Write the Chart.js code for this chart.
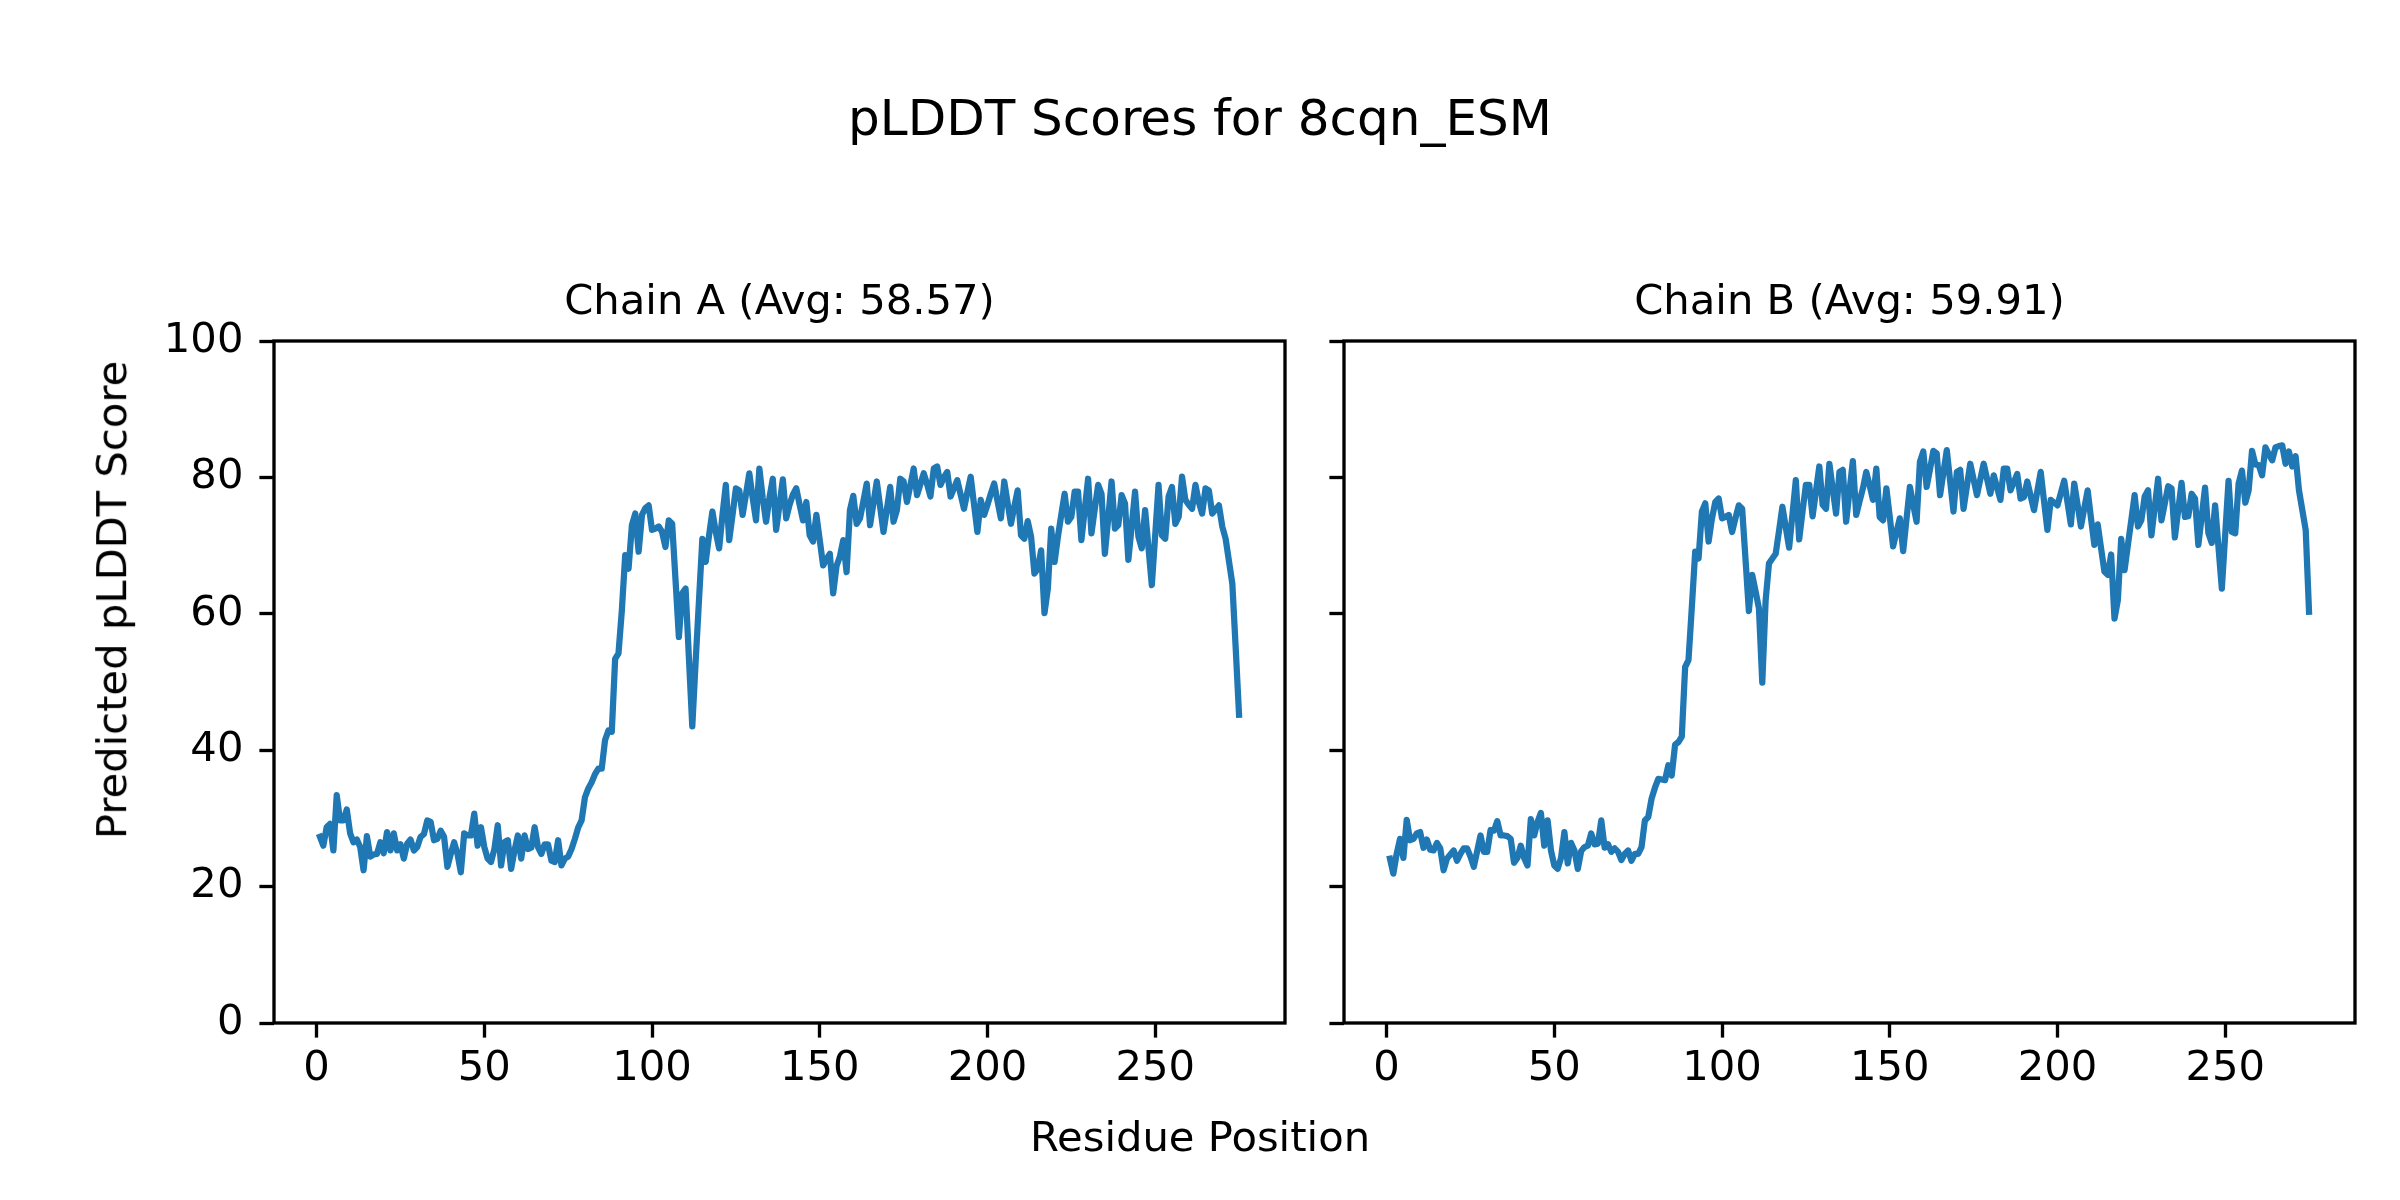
<!DOCTYPE html>
<html>
<head>
<meta charset="utf-8">
<title>pLDDT Scores for 8cqn_ESM</title>
<script src="https://cdn.jsdelivr.net/npm/chart.js@4.4.1/dist/chart.umd.min.js"></script>
<style>
  html, body { margin: 0; padding: 0; background: #fff; }
  #fig { position: relative; width: 2400px; height: 1200px; overflow: hidden;
         font-family: 'DejaVu Sans', sans-serif; color: #000; }
  #fig canvas { position: absolute; top: 0; }
  .suptitle { position: absolute; left: 0; width: 2400px; text-align: center;
              font-size: 50px; line-height: 50px; top: 93px; }
  .supxlabel { position: absolute; left: 0; width: 2400px; text-align: center;
               font-size: 41.7px; line-height: 41.7px; top: 1116px; }
  .supylabel { position: absolute; left: 112px; top: 600px; white-space: nowrap;
               font-size: 41.7px; line-height: 41.7px;
               transform: translate(-50%, -50%) rotate(-90deg); }
</style>
</head>
<body>
<div id="fig">
  <div class="suptitle">pLDDT Scores for 8cqn_ESM</div>
  <canvas id="chainA" width="1310" height="1200" style="left:0px"></canvas>
  <canvas id="chainB" width="1090" height="1200" style="left:1310px"></canvas>
  <div class="supylabel">Predicted pLDDT Score</div>
  <div class="supxlabel">Residue Position</div>
</div>
<script>
// residue numbers 1..275 for both chains
const residues = Array.from({ length: 275 }, (_, i) => i + 1);

const chainATitle = 'Chain A (Avg: 58.57)';
const chainBTitle = 'Chain B (Avg: 59.91)';

// values
const chainA = [
  27.3, 26.0, 28.7, 29.2, 25.3, 33.4, 29.7, 29.7, 31.3, 27.8,
  26.5, 26.9, 25.8, 22.4, 27.4, 24.4, 24.7, 24.8, 26.5, 24.9,
  28.0, 25.3, 27.8, 25.3, 26.2, 24.1, 26.3, 26.9, 25.3, 25.8,
  27.3, 27.7, 29.7, 29.5, 26.8, 27.0, 28.2, 27.3, 22.9, 24.8,
  26.5, 24.8, 22.1, 27.8, 27.5, 27.5, 30.7, 26.0, 28.7, 25.8,
  24.1, 23.6, 25.5, 29.0, 23.1, 26.5, 26.8, 22.6, 25.3, 27.5,
  24.1, 27.5, 25.5, 25.7, 28.7, 25.8, 24.8, 26.2, 26.2, 23.8,
  23.6, 26.8, 23.1, 24.1, 24.4, 25.5, 27.0, 28.7, 29.7, 33.1,
  34.4, 35.3, 36.5, 37.3, 37.3, 41.5, 42.9, 42.7, 53.4, 54.2,
  60.5, 68.6, 66.6, 73.0, 74.7, 69.1, 74.5, 75.5, 75.9, 72.3,
  72.5, 72.8, 72.0, 69.8, 73.7, 73.2, 65.0, 56.6, 63.0, 63.7,
  53.5, 43.5, 53.0, 62.0, 71.0, 67.6, 71.5, 75.0, 72.0, 69.6,
  74.5, 78.9, 70.8, 74.5, 78.4, 78.1, 74.5, 77.5, 80.6, 77.0,
  73.7, 81.3, 77.0, 73.5, 77.0, 79.8, 72.3, 76.0, 79.7, 74.0,
  76.0, 77.5, 78.4, 76.0, 73.7, 76.4, 71.5, 70.6, 74.5, 70.8,
  67.1, 68.0, 68.8, 63.0, 67.0, 68.4, 70.8, 66.1, 75.2, 77.3,
  73.2, 74.0, 76.5, 79.1, 73.0, 76.2, 79.4, 75.7, 72.0, 75.3,
  78.6, 73.5, 75.2, 79.8, 79.4, 76.4, 78.8, 81.3, 77.4, 79.0,
  80.6, 79.0, 77.2, 81.3, 81.6, 78.9, 80.0, 80.8, 77.2, 78.4,
  79.6, 77.5, 75.4, 77.8, 80.1, 76.0, 72.0, 76.7, 74.5, 76.0,
  77.6, 79.1, 76.5, 74.0, 79.4, 76.3, 73.2, 75.7, 78.1, 71.5,
  71.0, 73.6, 71.3, 65.9, 66.6, 69.3, 60.1, 63.7, 72.5, 67.6,
  71.3, 74.5, 77.6, 73.5, 74.2, 77.9, 77.9, 70.8, 75.3, 79.8,
  71.8, 75.4, 78.9, 77.6, 68.8, 74.0, 79.4, 72.5, 73.0, 77.4,
  76.2, 67.9, 72.9, 77.9, 71.3, 69.6, 75.2, 69.7, 64.2, 71.5,
  78.9, 71.5, 71.0, 77.2, 78.6, 73.2, 74.2, 80.1, 76.7, 76.0,
  75.4, 78.9, 76.4, 74.7, 78.4, 78.1, 74.7, 75.3, 75.9, 72.8,
  71.0, 67.7, 64.4, 55.0, 45.2
];

const chainB = [
  24.1, 21.9, 24.8, 27.0, 24.2, 29.8, 26.8, 27.0, 27.8, 28.0,
  25.7, 26.9, 25.4, 25.3, 26.4, 25.6, 22.4, 24.1, 24.7, 25.3,
  23.8, 24.8, 25.6, 25.6, 24.4, 22.9, 25.2, 27.5, 25.1, 25.1,
  28.3, 28.2, 29.6, 27.5, 27.5, 27.4, 27.0, 23.5, 24.2, 26.0,
  24.2, 23.1, 29.9, 27.5, 29.5, 30.8, 26.0, 29.7, 25.3, 23.1,
  22.6, 24.2, 28.0, 23.4, 26.4, 25.3, 22.6, 25.2, 25.8, 26.0,
  27.8, 26.2, 26.3, 29.7, 25.7, 26.2, 25.1, 25.6, 25.1, 23.9,
  24.8, 25.3, 23.8, 24.8, 24.8, 25.8, 29.7, 30.2, 32.9, 34.5,
  35.8, 35.7, 35.6, 37.8, 36.3, 40.8, 41.2, 42.0, 52.2, 53.2,
  61.0, 69.1, 68.1, 75.0, 76.2, 70.6, 74.0, 76.4, 76.9, 74.0,
  74.2, 74.5, 72.0, 74.0, 75.9, 75.4, 68.0, 60.4, 65.7, 63.3,
  60.8, 49.9, 62.0, 67.4, 68.1, 68.8, 72.2, 75.7, 72.7, 69.7,
  74.6, 79.6, 70.9, 75.0, 78.9, 78.9, 74.3, 78.0, 81.6, 76.0,
  75.4, 82.0, 78.3, 74.7, 80.8, 81.1, 73.5, 78.0, 82.4, 74.5,
  76.5, 78.4, 80.8, 78.8, 76.7, 81.3, 74.2, 73.7, 78.4, 74.2,
  69.9, 72.0, 74.0, 69.2, 73.9, 78.6, 76.0, 73.5, 82.3, 83.8,
  78.6, 81.2, 83.9, 83.5, 77.4, 80.7, 84.0, 79.5, 75.0, 80.8,
  81.1, 75.4, 78.7, 82.0, 79.7, 77.4, 79.7, 82.0, 79.8, 77.6,
  80.3, 78.5, 76.7, 81.3, 81.3, 78.1, 79.3, 80.5, 76.9, 77.1,
  79.4, 77.3, 75.2, 78.0, 80.8, 76.5, 72.3, 76.7, 76.3, 75.9,
  77.7, 79.5, 76.3, 73.1, 79.1, 76.0, 72.8, 75.5, 78.1, 74.0,
  70.1, 73.1, 69.6, 66.2, 65.7, 68.7, 59.3, 62.0, 71.0, 66.4,
  70.1, 73.7, 77.4, 72.8, 73.7, 77.2, 78.1, 71.5, 75.6, 79.8,
  73.7, 76.2, 78.7, 78.4, 71.2, 75.2, 79.2, 74.2, 74.3, 77.6,
  76.9, 70.1, 74.3, 78.5, 71.8, 70.4, 75.9, 69.8, 63.7, 71.6,
  79.5, 72.0, 71.8, 79.1, 81.0, 76.3, 78.1, 83.9, 81.9, 81.8,
  80.3, 84.4, 83.4, 82.5, 84.4, 84.6, 84.7, 82.0, 83.8, 81.6,
  83.1, 78.1, 75.2, 72.3, 60.3
];

const xTicks = [0, 50, 100, 150, 200, 250];
const yTicks = [0, 20, 40, 60, 80, 100];

Chart.defaults.font.family = "'DejaVu Sans', sans-serif";
Chart.defaults.color = '#000';

// box around the plot area, like matplotlib spines
const spines = {
  id: 'spines',
  afterDraw(chart) {
    const { ctx, chartArea: a } = chart;
    ctx.save();
    ctx.strokeStyle = '#000';
    ctx.lineWidth = 3.33;
    ctx.strokeRect(a.left, a.top, a.right - a.left, a.bottom - a.top);
    ctx.restore();
  }
};

const tickGrid = {
  drawOnChartArea: false,
  drawTicks: true,
  tickLength: 14.6,
  tickWidth: 3.33,
  tickColor: '#000'
};

function makeChart(id, values, title, withLabels, yWidth, padRight) {
  const canvas = document.getElementById(id);
  return new Chart(canvas, {
    type: 'line',
    data: {
      datasets: [{
        data: residues.map((r, i) => ({ x: r, y: values[i] })),
        borderColor: '#1f77b4',
        borderWidth: 6.25,
        borderJoinStyle: 'round',
        borderCapStyle: 'square',
        pointRadius: 0,
        tension: 0,
        fill: false
      }]
    },
    options: {
      responsive: false,
      animation: false,
      devicePixelRatio: 1,
      layout: { padding: { top: 278.6, left: 0, right: padRight, bottom: 87 } },
      plugins: {
        legend: { display: false },
        tooltip: { enabled: false },
        title: {
          display: true,
          text: title,
          fullSize: false,
          color: '#000',
          font: { size: 41.7, weight: 'normal', lineHeight: 1.2 },
          padding: { top: 0, bottom: 12.36 }
        }
      },
      scales: {
        x: {
          type: 'linear',
          min: -12.7,
          max: 288.7,
          afterBuildTicks: s => { s.ticks = xTicks.map(v => ({ value: v })); },
          afterFit: s => { s.height = 90; },
          ticks: { font: { size: 41.7, lineHeight: 1.2 }, color: '#000', padding: 6.7,
                   maxRotation: 0, autoSkip: false },
          grid: tickGrid,
          border: { display: false }
        },
        y: {
          min: 0,
          max: 100,
          afterBuildTicks: s => { s.ticks = yTicks.map(v => ({ value: v })); },
          afterFit: s => { s.width = yWidth; },
          ticks: { font: { size: 41.7 }, color: '#000', padding: 16,
                   callback: withLabels ? (v => v) : (() => '') },
          grid: tickGrid,
          border: { display: false }
        }
      }
    },
    plugins: [spines]
  });
}

makeChart('chainA', chainA, chainATitle, true, 274, 25);
makeChart('chainB', chainB, chainBTitle, false, 34, 45);
</script>
</body>
</html>
